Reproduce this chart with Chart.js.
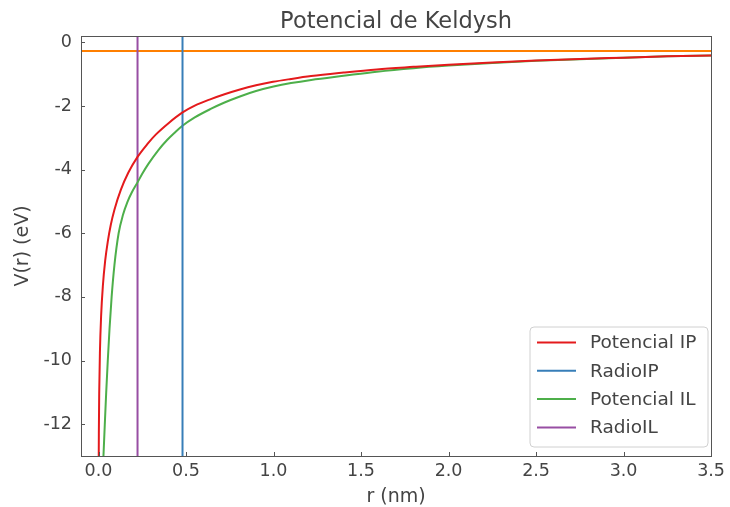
<!DOCTYPE html>
<html>
<head>
<meta charset="utf-8">
<script src="https://cdn.jsdelivr.net/npm/chart.js@4/dist/chart.umd.min.js"></script>
<style>
  html, body { margin: 0; padding: 0; background: #fff; }
  canvas { display: block; }
</style>
</head>
<body>
<canvas id="c" width="730" height="507"></canvas>
<script>
// ---- data ----
const xIP = [0.001, 0.002, 0.004, 0.008, 0.015, 0.025, 0.038, 0.053, 0.070, 0.091, 0.128, 0.170, 0.223, 0.280, 0.327, 0.400, 0.478, 0.550, 0.638, 0.720, 0.808, 0.900, 0.997, 1.100, 1.215, 1.400, 1.590, 1.800, 2.000, 2.250, 2.500, 2.750, 3.000, 3.250, 3.500];
const vIP = [-13.6, -12.3, -11.04, -9.76, -8.59, -7.65, -6.87, -6.26, -5.74, -5.26, -4.63, -4.10, -3.60, -3.19, -2.90, -2.54, -2.21, -1.99, -1.79, -1.63, -1.48, -1.35, -1.24, -1.15, -1.06, -0.95, -0.85, -0.77, -0.70, -0.63, -0.57, -0.52, -0.48, -0.44, -0.41];
const xIL = [0.026, 0.036, 0.044, 0.053, 0.063, 0.075, 0.091, 0.115, 0.140, 0.165, 0.190, 0.223, 0.250, 0.285, 0.340, 0.392, 0.435, 0.478, 0.550, 0.638, 0.720, 0.808, 0.900, 1.000, 1.100, 1.215, 1.400, 1.590, 1.800, 2.000, 2.250, 2.500, 2.750, 3.000, 3.250, 3.500];
const vIL = [-13.3, -12.0, -11.0, -10.0, -9.0, -8.0, -7.0, -6.0, -5.42, -5.02, -4.72, -4.40, -4.13, -3.82, -3.40, -3.07, -2.84, -2.63, -2.36, -2.10, -1.89, -1.70, -1.53, -1.39, -1.28, -1.18, -1.05, -0.92, -0.81, -0.73, -0.65, -0.58, -0.53, -0.48, -0.44, -0.41];
const radioIP = 0.48;
const radioIL = 0.223;
const levelLine = -0.27;
const xRange = [-0.1, 3.5];
const yRange = [-13, 0.2];
const xTicks = [0.0, 0.5, 1.0, 1.5, 2.0, 2.5, 3.0, 3.5];
const yTicks = [0, -2, -4, -6, -8, -10, -12];
const labels = ['Potencial IP', 'RadioIP', 'Potencial IL', 'RadioIL'];
const titleText = 'Potencial de Keldysh';
const xTitle = 'r (nm)';
const yTitle = 'V(r) (eV)';

const FONT = "'DejaVu Sans', sans-serif";
const TEXT = '#444444';
const FRAME = '#555555';

const toPts = (xs, ys) => xs.map((x, i) => ({ x: x, y: ys[i] }));
const vline = (x) => [{ x: x, y: yRange[0] - 1 }, { x: x, y: yRange[1] + 1 }];

const decor = {
  id: 'decor',
  afterDraw(chart) {
    const ctx = chart.ctx;
    const a = chart.chartArea;
    const xs = chart.scales.x, ys = chart.scales.y;
    ctx.save();
    ctx.strokeStyle = FRAME;
    ctx.lineWidth = 1;
    ctx.strokeRect(Math.round(a.left) + 0.5, Math.round(a.top) + 0.5, Math.round(a.right - a.left), Math.round(a.bottom - a.top));
    ctx.beginPath();
    xTicks.forEach(v => {
      const px = Math.round(xs.getPixelForValue(v)) + 0.5;
      ctx.moveTo(px, a.bottom); ctx.lineTo(px, a.bottom - 4);
    });
    yTicks.forEach(v => {
      const py = Math.round(ys.getPixelForValue(v)) + 0.5;
      ctx.moveTo(a.left, py); ctx.lineTo(a.left + 4, py);
    });
    ctx.stroke();
    ctx.fillStyle = TEXT;
    ctx.font = '22.5px ' + FONT;
    ctx.textAlign = 'center';
    ctx.textBaseline = 'middle';
    ctx.fillText(titleText, (a.left + a.right) / 2, 22);
    const bx = 530, by = 327, bw = 178, bh = 120, r = 4;
    ctx.beginPath();
    ctx.moveTo(bx + r, by);
    ctx.arcTo(bx + bw, by, bx + bw, by + bh, r);
    ctx.arcTo(bx + bw, by + bh, bx, by + bh, r);
    ctx.arcTo(bx, by + bh, bx, by, r);
    ctx.arcTo(bx, by, bx + bw, by, r);
    ctx.closePath();
    ctx.fillStyle = 'rgba(255,255,255,0.8)';
    ctx.fill();
    ctx.strokeStyle = '#d0d0d0';
    ctx.stroke();
    ctx.font = '18.5px ' + FONT;
    ctx.textAlign = 'left';
    ctx.textBaseline = 'middle';
    const legendSets = chart.data.datasets.filter(d => d.label);
    legendSets.forEach((d, i) => {
      const yy = 342.5 + i * 28.3;
      ctx.strokeStyle = d.borderColor;
      ctx.lineWidth = 2;
      ctx.beginPath();
      ctx.moveTo(537, yy); ctx.lineTo(576, yy);
      ctx.stroke();
      ctx.fillStyle = TEXT;
      ctx.fillText(d.label, 590, yy + 1);
    });
    ctx.restore();
  }
};

new Chart(document.getElementById('c'), {
  type: 'line',
  data: {
    datasets: [
      { label: labels[0], data: toPts(xIP, vIP), borderColor: '#e41a1c' },
      { label: labels[1], data: vline(radioIP), borderColor: '#377eb8' },
      { label: labels[2], data: toPts(xIL, vIL), borderColor: '#4daf4a' },
      { label: labels[3], data: vline(radioIL), borderColor: '#984ea3' },
      { label: '', data: [{ x: xRange[0] - 1, y: levelLine }, { x: xRange[1] + 1, y: levelLine }], borderColor: '#ff7f00' }
    ]
  },
  options: {
    responsive: false,
    devicePixelRatio: 1,
    animation: false,
    layout: { padding: { top: 36, right: 13, left: 0, bottom: 0 } },
    elements: {
      point: { radius: 0, hoverRadius: 0 },
      line: { borderWidth: 2, fill: false, cubicInterpolationMode: 'monotone' }
    },
    plugins: {
      legend: { display: false },
      title: { display: false },
      tooltip: { enabled: false }
    },
    scales: {
      x: {
        type: 'linear',
        min: xRange[0], max: xRange[1],
        afterFit: s => { s.height = 51; },
        afterBuildTicks: s => { s.ticks = xTicks.map(v => ({ value: v })); },
        grid: { display: false, drawTicks: false },
        border: { display: false },
        ticks: { color: TEXT, font: { family: FONT, size: 17.5 }, padding: 5, maxRotation: 0, autoSkip: false, callback: v => Number(v).toFixed(1) },
        title: { display: true, text: xTitle, color: TEXT, font: { family: FONT, size: 19 }, padding: { top: 0, bottom: -1 } }
      },
      y: {
        type: 'linear',
        min: yRange[0], max: yRange[1],
        afterFit: s => { s.width = 81; },
        afterBuildTicks: s => { s.ticks = yTicks.map(v => ({ value: v })); },
        grid: { display: false, drawTicks: false },
        border: { display: false },
        ticks: { color: TEXT, font: { family: FONT, size: 17.5 }, padding: 9, autoSkip: false, callback: v => String(v) },
        title: { display: true, text: yTitle, color: TEXT, font: { family: FONT, size: 19 }, padding: { top: 12, bottom: 0 } }
      }
    }
  },
  plugins: [decor]
});
</script>
</body>
</html>
